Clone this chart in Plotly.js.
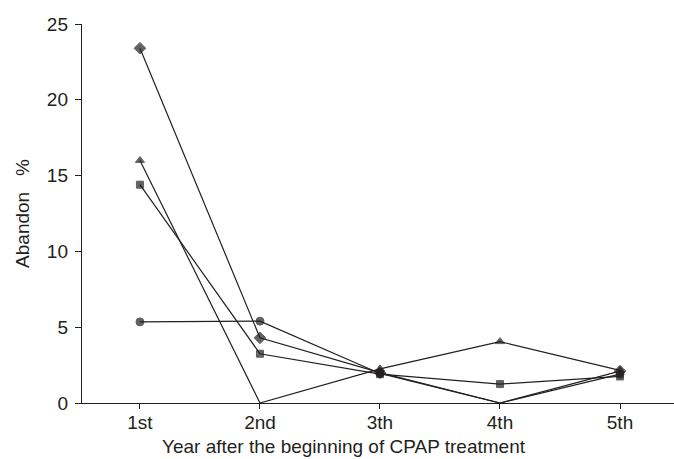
<!DOCTYPE html>
<html>
<head>
<meta charset="utf-8">
<script src="https://cdn.plot.ly/plotly-3.0.1.min.js"></script>
<style>html,body{margin:0;padding:0;background:#fff;}#chart{width:674px;height:459px;}</style>
</head>
<body>
<div id="chart"></div>
<script>
const years = ["1st", "2nd", "3th", "4th", "5th"];
const seriesDiamond = [23.4, 4.3, 2.0, 0, 2.1];
const seriesTriangle = [16.0, 0, 2.25, 4.05, 2.15];
const seriesSquare = [14.4, 3.25, 1.9, 1.25, 1.75];
const seriesCircle = [5.35, 5.4, 1.95, 0, 1.9];
const xTitle = "Year after the beginning of CPAP treatment";
const yTitle = "Abandon\u00a0\u00a0\u00a0%";

const ink = "#231f20";
function trace(vals, symbol, size) {
  return {
    type: "scatter", mode: "lines+markers", x: years, y: vals,
    line: {color: ink, width: 1.2},
    marker: {symbol: symbol, color: ink, size: vals.map(v => v === 0 ? 0 : size),
             line: {color: ink, width: 1}},
    cliponaxis: false, showlegend: false
  };
}
const data = [
  trace(seriesCircle, "circle", 8),
  trace(seriesSquare, "square", 7),
  trace(seriesTriangle, "triangle-up", 8),
  trace(seriesDiamond, "diamond", 9)
];
const font = {family: "Liberation Sans, Arial, sans-serif", color: ink, size: 19};
const layout = {
  width: 674, height: 459,
  margin: {l: 82, r: 0, t: 24, b: 56},
  paper_bgcolor: "#fff", plot_bgcolor: "#fff",
  font: font,
  xaxis: {
    type: "category", range: [-0.483, 4.45],
    showgrid: false, zeroline: false,
    showline: true, linecolor: ink, linewidth: 1.2,
    ticks: "outside", ticklen: 5, tickcolor: ink, tickwidth: 1,
    ticklabelstandoff: -3,
    tickfont: font
  },
  yaxis: {
    range: [0, 25], tickvals: [0, 5, 10, 15, 20, 25],
    showgrid: false, zeroline: false,
    showline: true, linecolor: ink, linewidth: 1.2,
    ticks: "outside", ticklen: 6, tickcolor: ink, tickwidth: 1,
    ticklabelstandoff: 3,
    tickfont: font,
    title: {text: yTitle, font: font, standoff: 12}
  },
  annotations: [{
    text: xTitle, xref: "paper", yref: "paper", x: 0.4426, y: -0.115,
    xanchor: "center", yanchor: "middle", showarrow: false, font: font
  }]
};
Plotly.newPlot("chart", data, layout, {displayModeBar: false, staticPlot: true});
</script>
</body>
</html>
